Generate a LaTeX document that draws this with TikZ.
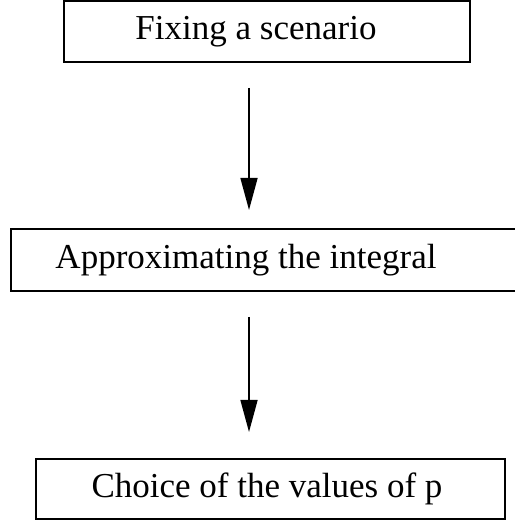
\documentclass[tikz,border=0pt]{standalone}
\usepackage{fontspec}
\setmainfont{Liberation Serif}
\usetikzlibrary{arrows.meta}

\tikzset{
    box/.style = {draw, line width = 1.5pt, inner sep = 0pt, font = \fontsize{35}{42}\selectfont},
    flow/.style = {-{Triangle[length = 32pt, width = 17pt]}, line width = 1.5pt}
}

\begin{document}
\begin{tikzpicture}[x = 1pt, y = 1pt]
    \useasboundingbox (0, 0) rectangle (514, 521);

    \node[box, minimum width = 406pt, minimum height = 61pt] (fix) at (267, 489.5) {\hspace*{-22pt}Fixing a scenario};
    \node[box, minimum width = 540pt, minimum height = 62pt] (approx) at (281, 261) {\hspace*{-70pt}Approximating the integral};
    \node[box, minimum width = 469pt, minimum height = 60pt] (choice) at (270.5, 32) {\hspace*{-7pt}Choice of the values of p};

    \coordinate (a1) at (249, 433);
    \coordinate (b1) at (249, 311);
    \coordinate (a2) at (249, 204);
    \coordinate (b2) at (249, 89);

    \draw[flow] (a1) -- (b1);
    \draw[flow] (a2) -- (b2);
\end{tikzpicture}
\end{document}
